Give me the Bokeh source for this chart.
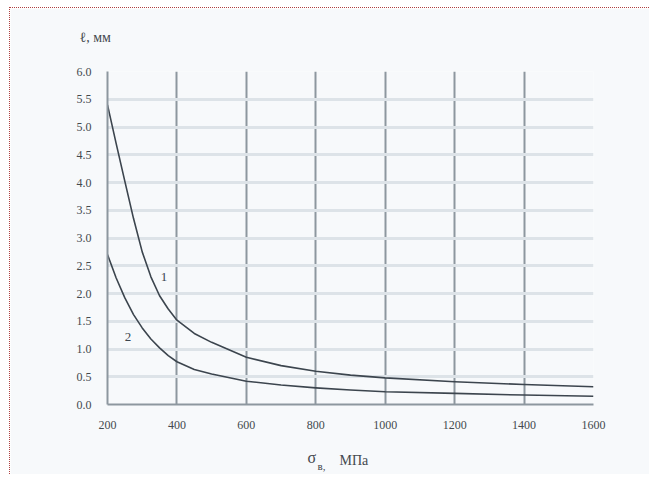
from bokeh.plotting import figure
from bokeh.models import Label, FixedTicker, NumeralTickFormatter, Range1d
from bokeh.embed import file_html
from bokeh.resources import INLINE

# Data
sigma = [200, 225, 250, 275, 300, 325, 350, 375, 400, 450, 500, 600, 700, 800, 900, 1000, 1200, 1400, 1600]
curve1 = [5.40, 4.70, 4.02, 3.35, 2.75, 2.30, 1.96, 1.72, 1.52, 1.28, 1.12, 0.85, 0.70, 0.60, 0.53, 0.48, 0.41, 0.36, 0.32]
curve2 = [2.70, 2.28, 1.92, 1.62, 1.38, 1.18, 1.02, 0.88, 0.77, 0.63, 0.55, 0.42, 0.35, 0.30, 0.26, 0.23, 0.20, 0.17, 0.15]
x_ticks = [200, 400, 600, 800, 1000, 1200, 1400, 1600]
y_ticks = [0.0, 0.5, 1.0, 1.5, 2.0, 2.5, 3.0, 3.5, 4.0, 4.5, 5.0, 5.5, 6.0]
curve_names = ["1", "2"]
curve_name_x = [363, 259]
curve_name_y = [2.30, 1.22]

BG = "#f7f9fb"
FONT = "Liberation Serif"
TXT = "#44494e"

p = figure(width=640, height=467, output_backend="svg", toolbar_location=None,
           x_range=Range1d(200, 1600), y_range=Range1d(0, 6),
           min_border_left=97, min_border_right=57, min_border_top=63, min_border_bottom=70)
p.background_fill_color = BG
p.border_fill_color = BG
p.outline_line_color = None
p.styles = {"border-left": "1px dotted #b04040", "border-top": "1px dotted #b04040",
            "margin-left": "9px", "margin-top": "7px"}

# grids
p.xgrid.ticker = FixedTicker(ticks=x_ticks)
p.ygrid.ticker = FixedTicker(ticks=y_ticks)
p.xgrid.grid_line_color = "#8d979f"
p.xgrid.grid_line_width = 2
p.ygrid.grid_line_color = "#dde3e8"
p.ygrid.grid_line_width = 3

for ax in (p.xaxis, p.yaxis):
    ax.axis_line_color = "#8d979f"
    ax.axis_line_width = 2
    ax.major_tick_line_color = None
    ax.minor_tick_line_color = None
    ax.major_label_text_font = FONT
    ax.major_label_text_font_size = "12px"
    ax.major_label_text_color = TXT

p.xaxis.ticker = FixedTicker(ticks=x_ticks)
p.yaxis.ticker = FixedTicker(ticks=y_ticks)
p.yaxis.formatter = NumeralTickFormatter(format="0.0")
p.xaxis.major_label_standoff = 10
p.yaxis.major_label_standoff = 10

p.line(sigma, curve1, line_color="#3c454e", line_width=1.6, line_join="round")
p.line(sigma, curve2, line_color="#3c454e", line_width=1.6, line_join="round")

for name, cx, cy in zip(curve_names, curve_name_x, curve_name_y):
    p.add_layout(Label(x=cx, y=cy, text=name, text_font=FONT, text_font_size="13px",
                       text_color="#3c454e", text_align="center", text_baseline="middle"))

# axis titles placed in side panels
p.add_layout(Label(x=-28, y=34, x_units="screen", y_units="screen", text="ℓ, мм",
                   text_font=FONT, text_font_size="14px", text_color=TXT,
                   text_baseline="middle"), "above")
p.add_layout(Label(x=200, y=-9, x_units="screen", y_units="screen", text="σ",
                   text_font=FONT, text_font_size="16px", text_color=TXT,
                   text_baseline="middle"), "below")
p.add_layout(Label(x=210, y=-5, x_units="screen", y_units="screen", text="в,",
                   text_font=FONT, text_font_size="11px", text_color=TXT,
                   text_baseline="middle"), "below")
p.add_layout(Label(x=232, y=15, x_units="screen", y_units="screen", text="МПа",
                   text_font=FONT, text_font_size="14px", text_color=TXT,
                   text_baseline="middle"), "below")

open("out.html", "w").write(file_html(p, INLINE))
